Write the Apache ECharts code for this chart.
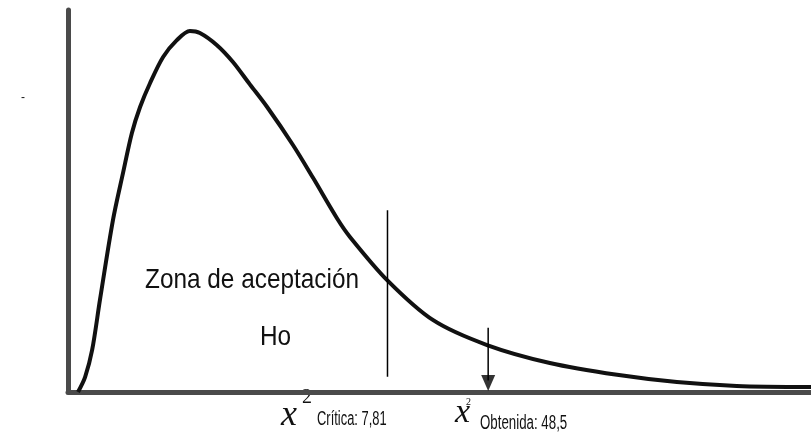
<!DOCTYPE html>
<html>
<head>
<meta charset="utf-8">
<script src="https://cdn.jsdelivr.net/npm/echarts@6/dist/echarts.min.js"></script>
<style>
html,body{margin:0;padding:0;background:#fff;}
#chart{width:811px;height:439px;}
</style>
</head>
<body>
<div id="chart"></div>
<script>
// Curve (chi-square shaped density, arbitrary units)
const curveX = [0.27, 0.46, 0.65, 0.86, 1.21, 1.48, 1.72, 1.94, 2.21, 2.56, 2.93, 3.28, 3.55, 4.01, 4.44, 4.89, 5.36, 6.06, 6.60, 7.24, 7.59, 8.59, 9.83, 11.28, 12.97, 14.78, 16.39, 18.0, 20.0];
const curveY = [0, 0.039, 0.110, 0.241, 0.450, 0.573, 0.678, 0.746, 0.809, 0.877, 0.921, 0.945, 0.940, 0.908, 0.864, 0.806, 0.746, 0.646, 0.560, 0.455, 0.406, 0.293, 0.188, 0.123, 0.076, 0.045, 0.026, 0.016, 0.013];
// Critical value marker line
const criticalX = 8.6;
const criticalY = [0.04, 0.476];
// Obtained value arrow
const obtainedX = 11.31;
const obtainedY = [0.168, 0.03];
const arrowHeadY = 0.0236;
// Texts
const zoneLabel = 'Zona de aceptación';
const hoLabel = 'Ho';
const criticalLabel = 'Crítica: 7,81';
const obtainedLabel = 'Obtenida: 48,5';

const chart = echarts.init(document.getElementById('chart'));
const sans = '"Liberation Sans", Arial, sans-serif';
const serif = '"Liberation Serif", "Times New Roman", serif';
const txtColor = '#111';

function txt(text, x, y, size, sx, sy, family, style) {
  return {
    type: 'text', x: x, y: y, scaleX: sx, scaleY: sy, silent: true,
    style: {
      text: text, fill: txtColor, fontSize: size, fontFamily: family,
      fontStyle: style || 'normal', align: 'left', verticalAlign: 'middle'
    }
  };
}

chart.setOption({
  animation: false,
  backgroundColor: '#ffffff',
  grid: { left: 68, right: 0, top: 10, bottom: 47, containLabel: false },
  xAxis: {
    type: 'value', min: 0, max: 20,
    axisLine: { show: true, onZero: false, lineStyle: { color: '#4a4a4a', width: 5 } },
    axisTick: { show: false }, axisLabel: { show: false }, splitLine: { show: false }
  },
  yAxis: {
    type: 'value', min: 0, max: 1,
    axisLine: { show: true, onZero: false, lineStyle: { color: '#4a4a4a', width: 5 } },
    axisTick: { show: false }, axisLabel: { show: false }, splitLine: { show: false }
  },
  series: [
    {
      type: 'line', smooth: 0.3, symbol: 'none', z: 3,
      lineStyle: { color: '#111', width: 4 },
      data: curveX.map((x, i) => [x, curveY[i]])
    },
    {
      type: 'line', symbol: 'none', z: 4,
      lineStyle: { color: '#000', width: 1.5 },
      data: criticalY.map(y => [criticalX, y])
    },
    {
      type: 'line', symbol: 'none', z: 4,
      lineStyle: { color: '#000', width: 1.5 },
      data: obtainedY.map(y => [obtainedX, y])
    },
    {
      type: 'scatter', z: 5, symbol: 'triangle', symbolRotate: 180, symbolSize: [14, 16],
      itemStyle: { color: '#000' },
      data: [[obtainedX, arrowHeadY]]
    }
  ],
  graphic: [
    txt('-', 21, 98, 12, 1, 1, sans),
    txt(zoneLabel, 145, 280, 28, 0.87, 1, sans),
    txt(hoLabel, 260, 337, 28, 0.87, 1, sans),
    txt('x', 281, 416, 36, 1, 1, serif, 'italic'),
    txt('2', 302, 397, 20, 1, 1.1, serif),
    txt(criticalLabel, 317, 420, 19, 0.68, 1.05, sans),
    txt('x', 455, 413, 34, 1, 1, serif, 'italic'),
    txt('2', 466, 402, 10, 1, 1, serif),
    txt(obtainedLabel, 480, 424, 19, 0.7, 1.05, sans)
  ]
});
</script>
</body>
</html>
